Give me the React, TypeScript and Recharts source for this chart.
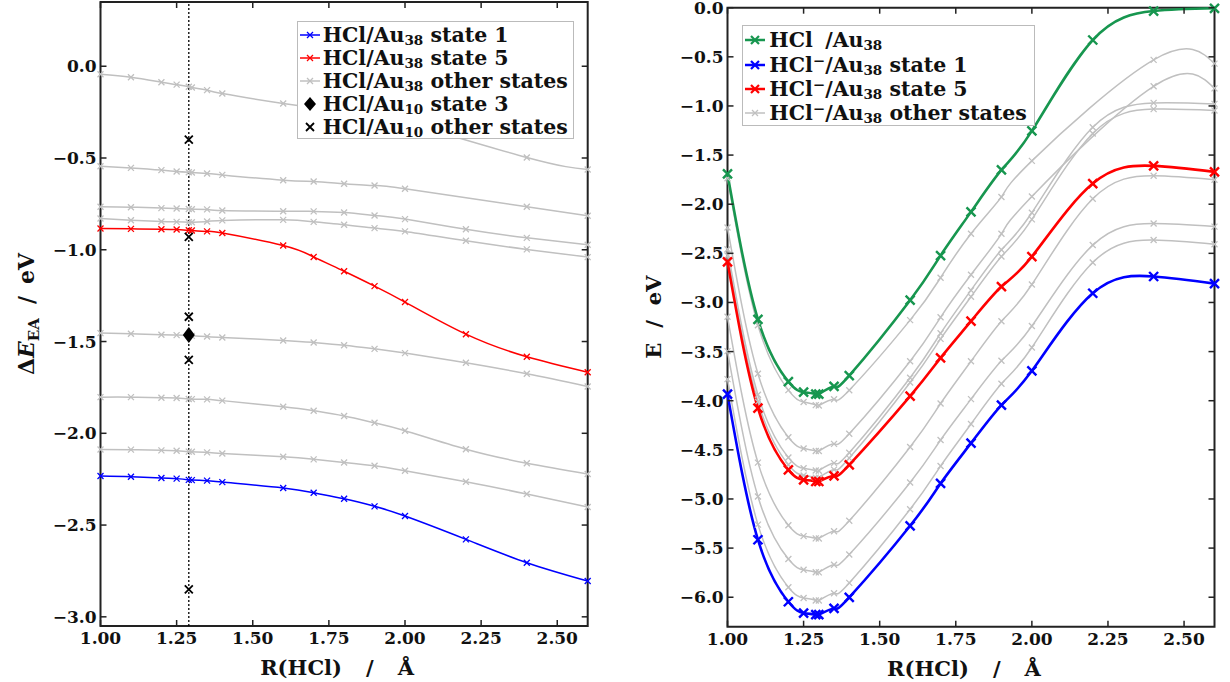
import React from 'react';
import { ComposedChart, Line, XAxis, YAxis, ReferenceLine, ReferenceArea, Legend, Label } from 'recharts';

// bond length grid R(HCl) in Angstrom, shared by both panels
const bondLength = [1.0, 1.1, 1.2, 1.25, 1.29, 1.3, 1.35, 1.4, 1.6, 1.7, 1.8, 1.9, 2.0, 2.2, 2.4, 2.6];

// left panel: Delta E_EA (eV), HCl/Au38  (null = no point computed)
const eaState1 = [-2.233, -2.237, -2.244, -2.247, -2.254, -2.255, -2.258, -2.266, -2.298, -2.324, -2.357, -2.398, -2.451, -2.578, -2.705, -2.805];
const eaState5 = [-0.884, -0.886, -0.888, -0.89, -0.894, -0.895, -0.9, -0.909, -0.977, -1.039, -1.117, -1.198, -1.285, -1.46, -1.583, -1.667];
const eaOtherStates = [
  [-0.044, -0.06, -0.087, -0.1, -0.112, -0.116, -0.13, -0.149, -0.203, -0.225, -0.25, -0.275, -0.305, null, -0.497, -0.563],
  [-0.545, -0.554, -0.566, -0.574, -0.578, -0.579, -0.584, -0.592, -0.621, -0.628, -0.64, -0.65, -0.668, null, -0.766, -0.815],
  [-0.766, -0.768, -0.773, -0.775, -0.778, -0.779, -0.78, -0.786, -0.79, -0.791, -0.797, -0.813, -0.833, -0.888, -0.935, -0.973],
  [-0.83, -0.839, -0.846, -0.848, -0.85, -0.85, -0.846, -0.84, -0.837, -0.848, -0.864, -0.882, -0.9, -0.951, -0.998, -1.04],
  [-1.454, -1.458, -1.463, -1.465, -1.468, -1.469, -1.473, -1.478, -1.494, -1.505, -1.52, -1.54, -1.563, -1.616, -1.676, -1.745],
  [-1.803, -1.803, -1.806, -1.808, -1.813, -1.814, -1.815, -1.822, -1.855, -1.877, -1.906, -1.943, -1.986, -2.087, -2.163, -2.222],
  [-2.088, -2.089, -2.093, -2.095, -2.1, -2.101, -2.104, -2.11, -2.128, -2.142, -2.159, -2.177, -2.204, -2.264, -2.331, -2.402],
];

// HCl/Au10, single geometry
const au10R = 1.29;
const au10State3 = [-1.465];
const au10Other = [-0.4, -0.93, -1.365, -1.6, -2.85];

// right panel: total energies E (eV)
const eNeutral = [-1.692, -3.172, -3.805, -3.913, -3.933, -3.933, -3.855, -3.744, -2.977, -2.523, -2.078, -1.651, -1.254, -0.329, -0.034, -0.006];
const eAnionState1 = [-3.933, -5.415, -6.046, -6.161, -6.178, -6.178, -6.114, -6.002, -5.273, -4.842, -4.432, -4.045, -3.696, -2.906, -2.736, -2.808];
const eAnionState5 = [-2.587, -4.075, -4.703, -4.805, -4.822, -4.822, -4.764, -4.652, -3.953, -3.564, -3.19, -2.838, -2.533, -1.79, -1.61, -1.671];
const eAnionOther = [
  [-1.736, -3.232, -3.892, -4.013, -4.045, -4.049, -3.985, -3.893, -3.18, -2.748, -2.3, -1.926, -1.559, null, -0.531, -0.569],
  [-2.237, -3.726, -4.371, -4.487, -4.511, -4.512, -4.439, -4.336, -3.598, -3.151, -2.718, -2.301, -1.922, null, -0.8, -0.821],
  [-2.458, -3.94, -4.578, -4.688, -4.711, -4.712, -4.635, -4.53, -3.767, -3.314, -2.875, -2.464, -2.087, -1.217, -0.969, -0.979],
  [-2.522, -4.011, -4.651, -4.761, -4.783, -4.783, -4.701, -4.584, -3.814, -3.371, -2.942, -2.533, -2.154, -1.28, -1.032, -1.046],
  [-3.146, -4.63, -5.268, -5.378, -5.401, -5.402, -5.328, -5.222, -4.471, -4.028, -3.598, -3.191, -2.817, -1.945, -1.71, -1.751],
  [-3.495, -4.975, -5.611, -5.721, -5.746, -5.747, -5.67, -5.566, -4.832, -4.4, -3.984, -3.594, -3.24, -2.416, -2.197, -2.228],
  [-3.78, -5.261, -5.898, -6.008, -6.033, -6.034, -5.959, -5.854, -5.105, -4.665, -4.237, -3.828, -3.458, -2.593, -2.365, -2.408],
];

const xTicks = [1, 1.25, 1.5, 1.75, 2, 2.25, 2.5];
const eaTicks = [-3, -2.5, -2, -1.5, -1, -0.5, 0];
const eTicks = [-6, -5.5, -5, -4.5, -4, -3.5, -3, -2.5, -2, -1.5, -1, -0.5, 0];

const FONT = '"DejaVu Serif", serif';
const INK = '#111';
const FRAME = '#222';
const GRAY = '#c0c0c0';
const BLUE = '#0000ff';
const RED = '#ff0000';
const GREEN = '#17964f';

const leftRows = bondLength.map((r, i) => {
  const row: any = { r, s1: eaState1[i], s5: eaState5[i] };
  eaOtherStates.forEach((s, k) => (row['o' + k] = s[i]));
  return row;
});
const rightRows = bondLength.map((r, i) => {
  const row: any = { r, n: eNeutral[i], s1: eAnionState1[i], s5: eAnionState5[i] };
  eAnionOther.forEach((s, k) => (row['o' + k] = s[i]));
  return row;
});
const au10OtherRows = au10Other.map((e) => ({ r: au10R, e }));
const au10State3Rows = au10State3.map((e) => ({ r: au10R, e }));

const fmtY = (v: number) => (v < 0 ? '\u2212' : '') + Math.abs(v).toFixed(1);

const cross = (color: string, s: number, w: number) => (p: any) => {
  if (p.cx == null || p.cy == null || p.value == null) return <g key={p.index} />;
  const { cx, cy } = p;
  return (
    <path key={p.index} d={`M${cx - s},${cy - s}L${cx + s},${cy + s}M${cx - s},${cy + s}L${cx + s},${cy - s}`}
      stroke={color} strokeWidth={w} fill="none" />
  );
};

const diamond = (p: any) => {
  if (p.cx == null || p.cy == null) return <g key={p.index} />;
  const { cx, cy } = p;
  return <path key={p.index} d={`M${cx},${cy - 8}L${cx + 6},${cy}L${cx},${cy + 8}L${cx - 6},${cy}Z`} fill="#000" />;
};

// inward ticks on bottom + top, labels below
const xTick = (top: number) => (p: any) => (
  <g>
    <line x1={p.x} x2={p.x} y1={p.y} y2={p.y - 6} stroke={FRAME} strokeWidth={1.5} />
    <line x1={p.x} x2={p.x} y1={top} y2={top + 6} stroke={FRAME} strokeWidth={1.5} />
    <text x={p.x} y={p.y + 18} textAnchor="middle" fontFamily={FONT} fontWeight="bold" fontSize={17} fill={INK}>
      {Number(p.payload.value).toFixed(2)}
    </text>
  </g>
);

// inward ticks on left + right, labels left
const yTick = (right: number) => (p: any) => (
  <g>
    <line x1={p.x} x2={p.x + 6} y1={p.y} y2={p.y} stroke={FRAME} strokeWidth={1.5} />
    <line x1={right} x2={right - 6} y1={p.y} y2={p.y} stroke={FRAME} strokeWidth={1.5} />
    <text x={p.x - 4} y={p.y + 6} textAnchor="end" fontFamily={FONT} fontWeight="bold" fontSize={17} fill={INK}>
      {fmtY(Number(p.payload.value))}
    </text>
  </g>
);

const xLabel = (p: any) => {
  const vb = p.viewBox;
  return (
    <text x={vb.x + vb.width / 2 - 7} y={vb.y + 49} textAnchor="middle" fontFamily={FONT} fontWeight="bold" fontSize={21} fill={INK}>
      R(HCl)<tspan dx={24}>/</tspan><tspan dx={24}>Å</tspan>
    </text>
  );
};

const eaLabel = (p: any) => {
  const vb = p.viewBox;
  return (
    <text transform={`translate(34,${vb.y + vb.height / 2}) rotate(-90)`} textAnchor="middle" fontFamily={FONT} fontWeight="bold" fontSize={22} fill={INK}>
      Δ<tspan fontStyle="italic">E</tspan><tspan fontSize={15} dy={5}>EA</tspan><tspan dy={-5} dx={14}>/</tspan><tspan dx={12}>eV</tspan>
    </text>
  );
};

const eLabel = (p: any) => {
  const vb = p.viewBox;
  return (
    <text transform={`translate(46,${vb.y + vb.height / 2}) rotate(-90)`} textAnchor="middle" fontFamily={FONT} fontWeight="bold" fontSize={21} fill={INK}>
      E<tspan dx={15}>/</tspan><tspan dx={15}>eV</tspan>
    </text>
  );
};

const Handle = ({ color, s, w, lw, kind }: { color: string; s: number; w: number; lw: number; kind?: string }) => (
  <svg width={20} height={14} style={{ flex: 'none' }}>
    {kind !== 'marker' && <line x1={0} x2={20} y1={7} y2={7} stroke={color} strokeWidth={lw} />}
    {kind === 'diamond' ? (
      <path d="M10,0L16,7L10,14L4,7Z" fill="#000" />
    ) : (
      <path d={`M${10 - s},${7 - s}L${10 + s},${7 + s}M${10 - s},${7 + s}L${10 + s},${7 - s}`} stroke={color} strokeWidth={w} />
    )}
  </svg>
);

const sub = (t: string) => <sub style={{ fontSize: '0.66em', verticalAlign: '-0.22em', lineHeight: 0 }}>{t}</sub>;
const sup = (t: string, hidden?: boolean) => (
  <sup style={{ fontSize: '0.72em', verticalAlign: '0.42em', lineHeight: 0, visibility: hidden ? 'hidden' : 'visible' }}>{t}</sup>
);

const row = (h: React.ReactNode, text: React.ReactNode, height: number, gap: number) => (
  <div style={{ display: 'flex', alignItems: 'center', height, whiteSpace: 'nowrap' }}>
    {h}
    <span style={{ marginLeft: gap }}>{text}</span>
  </div>
);

const boxStyle: React.CSSProperties = {
  boxSizing: 'border-box', background: '#fff', border: '1px solid #bbb', fontFamily: FONT,
  fontWeight: 'bold', fontSize: 20.5, color: INK,
};

const leftLegend = () => (
  <div style={{ ...boxStyle, width: 277, height: 118, padding: '2px 0 0 2px' }}>
    {row(<Handle color={BLUE} s={3} w={1.3} lw={1.5} />, <>HCl/Au{sub('38')} state 1</>, 22.9, 3)}
    {row(<Handle color={RED} s={3} w={1.3} lw={1.5} />, <>HCl/Au{sub('38')} state 5</>, 22.9, 3)}
    {row(<Handle color={GRAY} s={3} w={1.3} lw={1.5} />, <>HCl/Au{sub('38')} other states</>, 22.9, 3)}
    {row(<Handle color="#000" s={0} w={0} lw={0} kind="diamond" />, <>HCl/Au{sub('10')} state 3</>, 22.9, 3)}
    {row(<Handle color="#000" s={4} w={1.8} lw={0} kind="marker" />, <>HCl/Au{sub('10')} other states</>, 22.9, 3)}
  </div>
);

const rightLegend = () => (
  <div style={{ ...boxStyle, width: 293, height: 101, padding: '2px 0 0 2px' }}>
    {row(<Handle color={GREEN} s={4} w={2.2} lw={2.5} />, <>HCl{sup('\u2212', true)}/Au{sub('38')}</>, 24.4, 4)}
    {row(<Handle color={BLUE} s={4} w={2.2} lw={2.5} />, <>HCl{sup('\u2212')}/Au{sub('38')} state 1</>, 24.4, 4)}
    {row(<Handle color={RED} s={4} w={2.2} lw={2.5} />, <>HCl{sup('\u2212')}/Au{sub('38')} state 5</>, 24.4, 4)}
    {row(<Handle color={GRAY} s={3} w={1.3} lw={1.5} />, <>HCl{sup('\u2212')}/Au{sub('38')} other states</>, 24.4, 4)}
  </div>
);

function EaPanel() {
  return (
    <ComposedChart width={615} height={682} data={leftRows} margin={{ top: 2, right: 27.3, bottom: 0, left: 0 }}>
      <XAxis dataKey="r" type="number" domain={[1, 2.6]} ticks={xTicks} interval={0} height={56}
        axisLine={false} tickLine={false} tickSize={0} tickMargin={0} tick={xTick(2)}>
        <Label content={xLabel} />
      </XAxis>
      <YAxis type="number" domain={[-3.05, 0.35]} ticks={eaTicks} interval={0} width={100.5}
        axisLine={false} tickLine={false} tickSize={0} tickMargin={0} tick={yTick(587.7)}>
        <Label content={eaLabel} />
      </YAxis>
      <ReferenceArea x1={1} x2={2.6} y1={-3.05} y2={0.35} ifOverflow="visible" fill="none" stroke={FRAME} strokeWidth={2} />
      <ReferenceLine x={au10R} stroke="#000" strokeWidth={1.3} strokeDasharray="2 2" />
      {eaOtherStates.map((_, k) => (
        <Line key={k} dataKey={'o' + k} type="natural" connectNulls stroke={GRAY} strokeWidth={1.5}
          dot={cross(GRAY, 3, 1.3)} activeDot={false} isAnimationActive={false} />
      ))}
      <Line dataKey="s5" type="natural" stroke={RED} strokeWidth={1.5} dot={cross(RED, 3, 1.3)} activeDot={false} isAnimationActive={false} />
      <Line dataKey="s1" type="natural" stroke={BLUE} strokeWidth={1.5} dot={cross(BLUE, 3, 1.3)} activeDot={false} isAnimationActive={false} />
      <Line data={au10OtherRows} dataKey="e" stroke="none" dot={cross('#000', 4, 1.8)} activeDot={false} isAnimationActive={false} />
      <Line data={au10State3Rows} dataKey="e" stroke="none" dot={diamond} activeDot={false} isAnimationActive={false} />
      <Legend content={leftLegend} layout="vertical" align="center" verticalAlign="middle"
        wrapperStyle={{ left: 296.7, top: 20.7, width: 277 }} />
    </ComposedChart>
  );
}

function EnergyPanel() {
  return (
    <ComposedChart width={615} height={682} data={rightRows} margin={{ top: 7.7, right: 15.5, bottom: 0, left: 0 }}>
      <XAxis dataKey="r" type="number" domain={[1, 2.6]} ticks={xTicks} interval={0} height={55.3}
        axisLine={false} tickLine={false} tickSize={0} tickMargin={0} tick={xTick(7.7)}>
        <Label content={xLabel} />
      </XAxis>
      <YAxis type="number" domain={[-6.3, 0]} ticks={eTicks} interval={0} width={112.5}
        axisLine={false} tickLine={false} tickSize={0} tickMargin={0} tick={yTick(599.5)}>
        <Label content={eLabel} />
      </YAxis>
      <ReferenceArea x1={1} x2={2.6} y1={-6.3} y2={0} ifOverflow="visible" fill="none" stroke={FRAME} strokeWidth={2} />
      {eAnionOther.map((_, k) => (
        <Line key={k} dataKey={'o' + k} type="natural" connectNulls stroke={GRAY} strokeWidth={1.5}
          dot={cross(GRAY, 3, 1.3)} activeDot={false} isAnimationActive={false} />
      ))}
      <Line dataKey="s5" type="natural" stroke={RED} strokeWidth={2.6} dot={cross(RED, 4.5, 2.4)} activeDot={false} isAnimationActive={false} />
      <Line dataKey="s1" type="natural" stroke={BLUE} strokeWidth={2.6} dot={cross(BLUE, 4.5, 2.4)} activeDot={false} isAnimationActive={false} />
      <Line dataKey="n" type="natural" stroke={GREEN} strokeWidth={2.6} dot={cross(GREEN, 4.5, 2.4)} activeDot={false} isAnimationActive={false} />
      <Legend content={rightLegend} layout="vertical" align="center" verticalAlign="middle"
        wrapperStyle={{ left: 127.3, top: 25, width: 293 }} />
    </ComposedChart>
  );
}

export default function App() {
  return (
    <div style={{ position: 'absolute', left: 0, top: 0, width: 1230, height: 682, background: '#fff' }}>
      <div style={{ position: 'absolute', left: 0, top: 0 }}>
        <EaPanel />
      </div>
      <div style={{ position: 'absolute', left: 615, top: 0 }}>
        <EnergyPanel />
      </div>
    </div>
  );
}
